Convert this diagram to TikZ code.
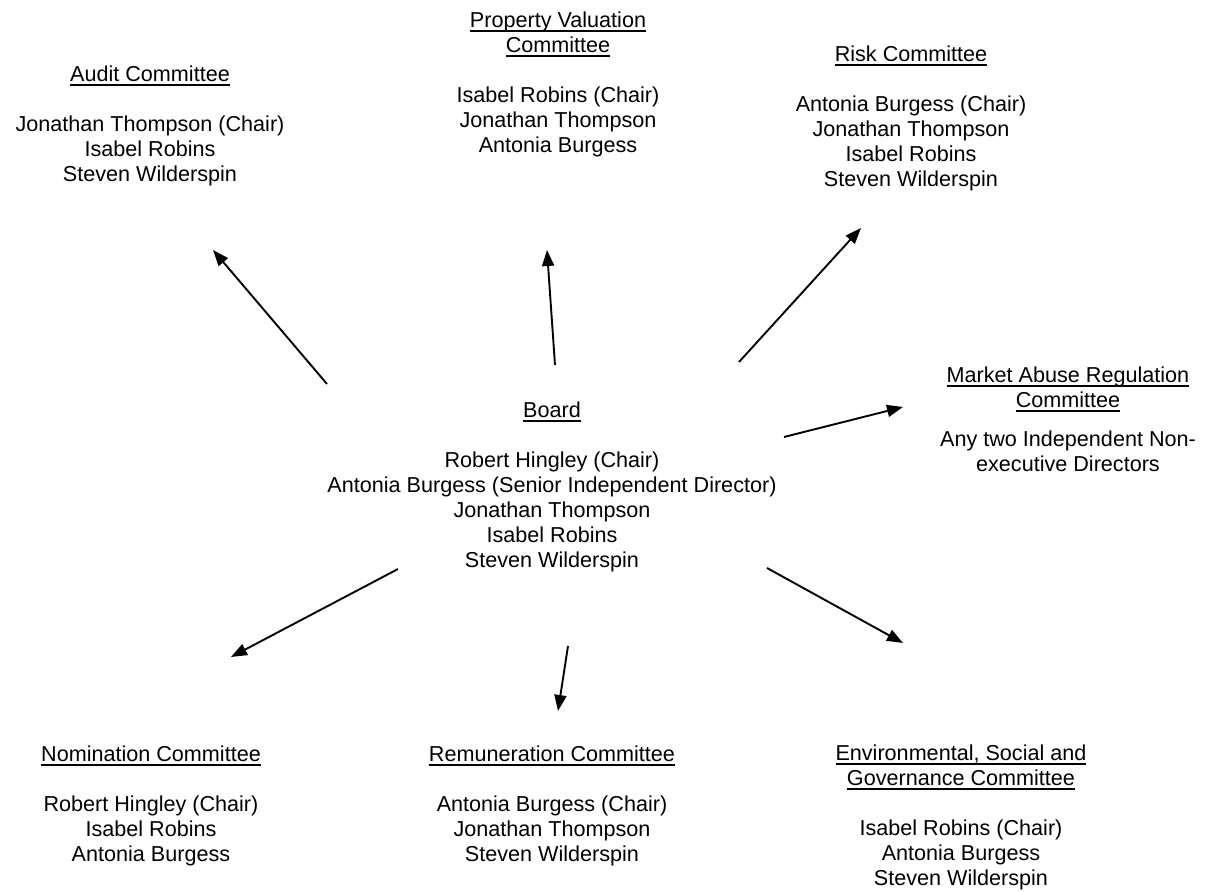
\documentclass[tikz,border=0pt]{standalone}
\usepackage{fontspec}
\setmainfont{Liberation Sans}
\usetikzlibrary{arrows.meta}
\newcommand\ttl[1]{\setbox0\hbox{#1}\rlap{\rule[-1.8pt]{\wd0}{0.8pt}}\box0}
\tikzset{member/.style={align=center, inner sep=0pt, anchor=base, font=\fontsize{10.8}{12.5}\selectfont},
  link/.style={-{Triangle[length=8pt,width=6pt]}, line width=0.95pt}}

\begin{document}
\begin{tikzpicture}[x=0.5pt, y=-0.5pt]
  \useasboundingbox (0,0) rectangle (1207,892);

  % base = baseline of the last line
  \node[member] (board) at (552,568) {\ttl{Board}\\[12.5pt]
    Robert Hingley (Chair)\\ Antonia Burgess (Senior Independent Director)\\
    Jonathan Thompson\\ Isabel Robins\\ Steven Wilderspin};

  \node[member] (audit) at (150,182) {\ttl{Audit Committee}\\[12.5pt]
    Jonathan Thompson (Chair)\\ Isabel Robins\\ Steven Wilderspin};
  \node[member] (prop) at (558,153) {\ttl{Property Valuation}\\ \ttl{Committee}\\[12.5pt]
    Isabel Robins (Chair)\\ Jonathan Thompson\\ Antonia Burgess};
  \node[member] (risk) at (911,187) {\ttl{Risk Committee}\\[12.5pt]
    Antonia Burgess (Chair)\\ Jonathan Thompson\\ Isabel Robins\\ Steven Wilderspin};
  \node[member] (mar) at (1068,472) {\ttl{Market Abuse Regulation}\\ \ttl{Committee}\\[7pt]
    Any two Independent Non-\\ executive Directors};
  \node[member] (nom) at (151,862) {\ttl{Nomination Committee}\\[12.5pt]
    Robert Hingley (Chair)\\ Isabel Robins\\ Antonia Burgess};
  \node[member] (rem) at (552,862) {\ttl{Remuneration Committee}\\[12.5pt]
    Antonia Burgess (Chair)\\ Jonathan Thompson\\ Steven Wilderspin};
  \node[member] (esg) at (961,886) {\ttl{Environmental, Social and}\\ \ttl{Governance Committee}\\[12.5pt]
    Isabel Robins (Chair)\\ Antonia Burgess\\ Steven Wilderspin};

  % arrow ends
  \coordinate (b1) at (327,384); \coordinate (a1) at (213,250);
  \coordinate (b2) at (555,365); \coordinate (a2) at (547,250);
  \coordinate (b3) at (739,362); \coordinate (a3) at (861,228);
  \coordinate (b4) at (784,437); \coordinate (a4) at (903,407);
  \coordinate (b5) at (398,569); \coordinate (a5) at (231,657);
  \coordinate (b6) at (568,646); \coordinate (a6) at (558,711);
  \coordinate (b7) at (767,568); \coordinate (a7) at (903,643);

  \foreach \i in {1,...,7}
    \draw[link] (b\i) -- (a\i);
\end{tikzpicture}
\end{document}
